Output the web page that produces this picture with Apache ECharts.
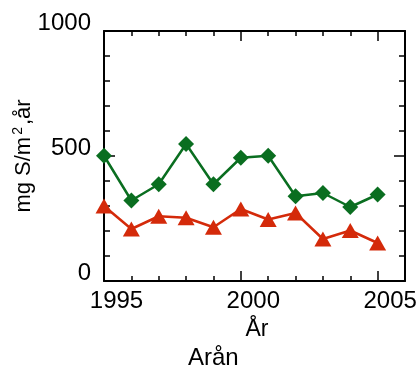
<!DOCTYPE html>
<html>
<head>
<meta charset="utf-8">
<script src="https://cdn.jsdelivr.net/npm/echarts@6/dist/echarts.min.js"></script>
<style>
html,body{margin:0;padding:0;background:#fff;}
#chart{width:420px;height:369px;}
</style>
</head>
<body>
<div id="chart"></div>
<script>
const years = [1995,1996,1997,1998,1999,2000,2001,2002,2003,2004,2005];
const greenSeries = [501,322,387,548,387,493,501,339,352,296,346];
const redSeries = [300,208,259,253,215,288,246,272,168,202,152];
const xTickLabels = [1995,2000,2005];
const yTickLabels = [0,500,1000];
const yTitle = 'mg S/m{sup|2},år';
const xTitle = 'År';
const bottomTitle = 'Arån';

const FONT = 'Liberation Sans, Arial, Helvetica, sans-serif';
const black = '#000';

function xAx(position, interval, len, showLine, showLabel) {
  return {
    type: 'value', position: position, min: 1995, max: 2006, interval: interval,
    axisLine: {show: showLine, onZero: false, lineStyle: {color: black, width: 2}},
    axisTick: {show: true, inside: true, length: len, lineStyle: {color: black, width: 1.5}},
    axisLabel: showLabel ? {
      show: true, fontSize: 24, color: black, fontFamily: FONT, margin: 8,
      padding: [0, 0, 0, 25],
      formatter: function (v) { return xTickLabels.indexOf(v) >= 0 ? String(v) : ''; }
    } : {show: false},
    splitLine: {show: false}
  };
}

function yAx(position, showLabel) {
  return {
    type: 'value', position: position, min: 0, max: 1000, interval: 500,
    axisLine: {show: true, onZero: false, lineStyle: {color: black, width: 2}},
    axisTick: {show: true, inside: true, length: 11, lineStyle: {color: black, width: 1.5}},
    minorTick: {show: true, splitNumber: 5, length: 6, lineStyle: {color: black, width: 1.5}},
    axisLabel: showLabel ? {
      show: true, color: black, fontFamily: FONT, margin: 13,
      formatter: function (v) { return yTickLabels.indexOf(v) >= 0 ? '{t|' + v + '}' : ''; },
      rich: {t: {fontSize: 24, color: black, fontFamily: FONT, padding: [0, 0, 16, 0]}}
    } : {show: false},
    splitLine: {show: false}
  };
}

const xMain = xAx('bottom', 1, 5, true, true);
xMain.name = xTitle;
xMain.nameLocation = 'middle';
xMain.nameGap = 37;
xMain.nameMoveOverlap = false;
xMain.nameTextStyle = {fontSize: 23, color: black, fontFamily: FONT, padding: [0, 0, 0, 5]};

const yMain = yAx('left', true);
yMain.name = yTitle;
yMain.nameLocation = 'middle';
yMain.nameGap = 67;
yMain.nameMoveOverlap = false;
yMain.nameTextStyle = {
  fontSize: 22, color: black, fontFamily: FONT,
  rich: {sup: {fontSize: 14, verticalAlign: 'top', padding: [0, 2, 12, 2], color: black, fontFamily: FONT}}
};

const chart = echarts.init(document.getElementById('chart'), null, {renderer: 'canvas'});
chart.setOption({
  animation: false,
  backgroundColor: '#fff',
  grid: {left: 104, right: 15, top: 31, bottom: 88, containLabel: false, outerBoundsMode: 'none'},
  xAxis: [
    xMain,
    xAx('bottom', 5, 10, false, false),
    xAx('top', 1, 5, true, false),
    xAx('top', 5, 10, false, false)
  ],
  yAxis: [
    yMain,
    yAx('right', false)
  ],
  graphic: [{
    type: 'text', left: 188, top: 346,
    style: {text: bottomTitle, fontSize: 24, fill: black, fontFamily: FONT}
  }],
  series: [
    {
      type: 'line', xAxisIndex: 0, yAxisIndex: 0,
      data: years.map((y, i) => [y, greenSeries[i]]),
      symbol: 'diamond', symbolSize: 16,
      lineStyle: {color: '#0a6e20', width: 2.5},
      itemStyle: {color: '#0a6e20'},
      z: 3
    },
    {
      type: 'line', xAxisIndex: 0, yAxisIndex: 0,
      data: years.map((y, i) => [y, redSeries[i]]),
      symbol: 'triangle', symbolSize: [17, 15],
      lineStyle: {color: '#d42a0a', width: 2.5},
      itemStyle: {color: '#d42a0a'},
      z: 2
    }
  ]
});
</script>
</body>
</html>
